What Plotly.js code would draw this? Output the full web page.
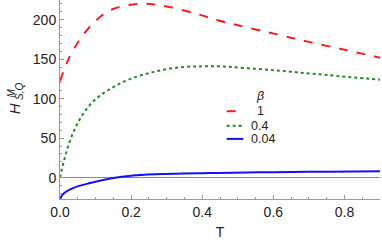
<!DOCTYPE html>
<html><head><meta charset="utf-8">
<script src="https://cdn.plot.ly/plotly-3.0.1.min.js"></script>
<style>html,body{margin:0;padding:0;background:#fff}#plot{width:382px;height:243px}</style>
</head><body><div id="plot"></div>
<script>
const legendTitle = "β";
const names = ["1", "0.4", "0.04"];
const tRed = [0, 0.023, 0.056, 0.099, 0.146, 0.22, 0.286, 0.38, 0.446, 0.5, 0.624, 0.7, 0.8, 0.9];
const hRed = [122, 149, 175, 198, 213, 220, 218, 208, 199, 193, 180, 172, 162, 152];
const tGreen = [0, 0.023, 0.052, 0.089, 0.136, 0.192, 0.268, 0.343, 0.4, 0.446, 0.6, 0.75, 0.9];
const hGreen = [0, 40, 71, 94.5, 111, 124, 134.5, 140, 141, 141, 136, 130, 124];
const tBlue = [0, 0.009, 0.038, 0.085, 0.15, 0.2, 0.268, 0.446, 0.6, 0.75, 0.9];
const hBlue = [-27, -20.6, -13, -6.7, -0.4, 2.5, 4.2, 6, 7, 7.6, 8];
const xTicks = [0, 0.2, 0.4, 0.6, 0.8];
const xTickText = ["0.0", "0.2", "0.4", "0.6", "0.8"];
const yTicks = [0, 50, 100, 150, 200];

const fam = "Liberation Sans, Arial, sans-serif";
const font = {family: fam, size: 14, color: "#222"};
const colors = ["#ff1a1a", "#1f8a1f", "#1010ff"];
const dashes = ["dash", "dot", "solid"];
const series = [[tRed, hRed], [tGreen, hGreen], [tBlue, hBlue]];
const traces = series.map((s, i) => ({x: s[0], y: s[1], name: names[i], mode: "lines",
  line: {color: colors[i], width: 2, dash: dashes[i], shape: "spline"}}));

// legend drawn with shapes + annotations (paper coordinates)
const legX0 = 0.521, legX1 = 0.573, legRows = [0.441, 0.368, 0.302];
const shapes = legRows.map((y, i) => ({type: "line", xref: "paper", yref: "paper",
  x0: legX0, x1: legX1, y0: y, y1: y, line: {color: colors[i], width: 2, dash: dashes[i]}}));
const lf = {family: fam, size: 12.5, color: "#222"};
const ann = (x, y, text, xa) => ({xref: "paper", yref: "paper", x: x, y: y, text: text, showarrow: false,
  font: lf, xanchor: xa, yanchor: "middle", borderpad: 0});
const annotations = [
  ann(0.625, 0.517, "<i>" + legendTitle + "</i>", "center"),
  ann(0.627, legRows[0], names[0], "center"),
  ann(0.594, legRows[1], names[1], "left"),
  ann(0.594, legRows[2], names[2], "left"),
  // y-axis title: H with stacked super/subscripts
  {xref: "paper", yref: "paper", x: -0.141, y: 0.455, text: "<i>H</i>", textangle: -90, showarrow: false,
    font: {family: fam, size: 15, color: "#222"}, xanchor: "center", yanchor: "middle", borderpad: 0},
  {xref: "paper", yref: "paper", x: -0.153, y: 0.53, text: "<i>M</i>", textangle: -90, showarrow: false,
    font: {family: fam, size: 10, color: "#222"}, xanchor: "center", yanchor: "middle", borderpad: 0},
  {xref: "paper", yref: "paper", x: -0.127, y: 0.54, text: "<i>S,Q</i>", textangle: -90, showarrow: false,
    font: {family: fam, size: 10, color: "#222"}, xanchor: "center", yanchor: "middle", borderpad: 0}
];

const layout = {
  width: 382, height: 243,
  margin: {l: 60, r: 2, t: 0, b: 44},
  paper_bgcolor: "#fff", plot_bgcolor: "#fff",
  font: font,
  showlegend: false,
  shapes: shapes, annotations: annotations,
  xaxis: {range: [0, 0.9], tickvals: xTicks, ticktext: xTickText, ticks: "inside", ticklen: 4,
    tickcolor: "#999", showline: true, linecolor: "#999", linewidth: 1, showgrid: false, zeroline: false,
    minor: {dtick: 0.05, ticks: "inside", ticklen: 2, tickcolor: "#999", showgrid: false},
    title: {text: "T", standoff: 8, font: {family: fam, size: 14}}},
  yaxis: {range: [-27, 225], tickvals: yTicks, ticks: "inside", ticklen: 4,
    tickcolor: "#999", showline: true, linecolor: "#999", linewidth: 1, showgrid: false,
    zeroline: true, zerolinecolor: "#888", zerolinewidth: 1,
    minor: {dtick: 10, ticks: "inside", ticklen: 2, tickcolor: "#999", showgrid: false}}
};
Plotly.newPlot("plot", traces, layout, {staticPlot: true, displayModeBar: false});
</script></body></html>
